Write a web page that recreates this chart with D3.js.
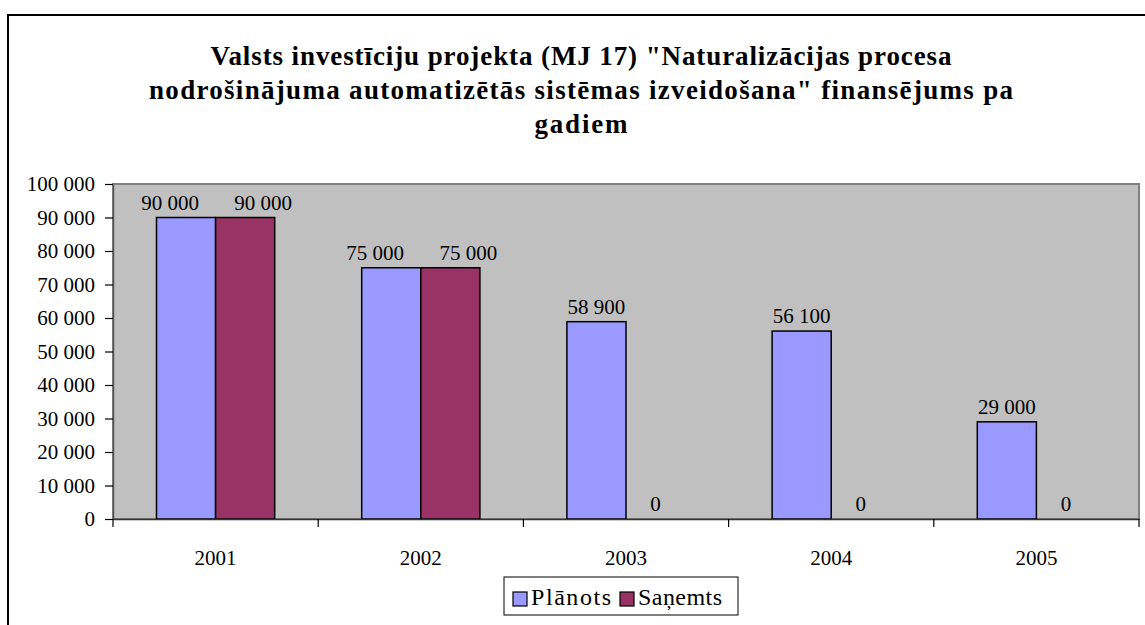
<!DOCTYPE html>
<html><head><meta charset="utf-8">
<script src="https://cdn.jsdelivr.net/npm/d3@7"></script>
<style>
html,body{margin:0;padding:0;background:#fff;}
svg{display:block;}
svg text{font-family:"Liberation Serif","Times New Roman",Tinos,"DejaVu Serif","Noto Serif",serif !important;}
</style></head>
<body><svg id="c" width="1145" height="625"></svg>
<script>
const titleLines = ["Valsts investīciju projekta (MJ 17) \"Naturalizācijas procesa",
  "nodrošinājuma automatizētās sistēmas izveidošana\" finansējums pa",
  "gadiem"];
const years = ["2001","2002","2003","2004","2005"];
const seriesNames = ["Plānots","Saņemts"];
const planned = [90000,75000,58900,56100,29000];
const received = [90000,75000,0,0,0];
const yTicks = [0,10000,20000,30000,40000,50000,60000,70000,80000,90000,100000];
const colors = ["#9999FF","#993366"];

const svg = d3.select("#c");
const fmt = v => d3.format(",")(v).replace(/,/g," ");

// outer frame
svg.append("rect").attr("x",8).attr("y",15).attr("width",1160).attr("height",640)
  .attr("fill","#fff").attr("stroke","#000").attr("stroke-width",2);

// title
const titleWidths = [741, 864, 93];
titleLines.forEach((t,i)=>{
  svg.append("text").attr("text-anchor","middle").attr("font-weight","bold")
    .attr("font-size",27).attr("fill","#000")
    .attr("x",581).attr("y",65+i*34)
    .attr("textLength",titleWidths[i]).attr("lengthAdjust","spacing")
    .text(t);
});

const L=113, R=1139, T=184, B=519;
const x0 = d3.scaleBand().domain(years).range([L,R]).paddingInner(0).paddingOuter(0);
const bw = x0.bandwidth();
const x1 = d3.scaleBand().domain(seriesNames).range([bw*0.212, bw*0.788]);
const y = d3.scaleLinear().domain([0,100000]).range([B,T]);

// plot area
svg.append("rect").attr("x",L).attr("y",T).attr("width",R-L).attr("height",B-T)
  .attr("fill","#C0C0C0").attr("stroke","#808080").attr("stroke-width",2);

// y axis
const yAxis = d3.axisLeft(y).tickValues(yTicks).tickFormat(fmt).tickSizeInner(8).tickSizeOuter(0).tickPadding(10);
const gy = svg.append("g").attr("transform",`translate(${L},0)`).call(yAxis);
gy.select(".domain").attr("stroke","#555").attr("stroke-width",1.5);
gy.selectAll(".tick line").attr("stroke","#000").attr("stroke-width",1.2);
gy.selectAll(".tick text").attr("font-size",21).attr("fill","#000").attr("dy","0.33em");

// bars
const data = years.map((yr,i)=>({yr, vals:[planned[i],received[i]]}));
const groups = svg.append("g").selectAll("g").data(data).join("g")
  .attr("transform",d=>`translate(${x0(d.yr)},0)`);
groups.selectAll("rect").data(d=>d.vals.map((v,j)=>({v,s:seriesNames[j],j})).filter(e=>e.v>0))
  .join("rect")
  .attr("x",e=>x1(e.s)).attr("width",x1.bandwidth())
  .attr("y",e=>y(e.v)).attr("height",e=>y(0)-y(e.v))
  .attr("fill",e=>colors[e.j]).attr("stroke","#000").attr("stroke-width",1.5);

// labels
groups.each(function(d){
  const g = d3.select(this);
  const both = d.vals.every(v=>v>0);
  d.vals.forEach((v,j)=>{
    const shift = both ? (j===0?-16:18) : 0;
    g.append("text").attr("text-anchor","middle")
      .attr("x",x1(seriesNames[j])+x1.bandwidth()/2+shift)
      .attr("y",y(v)-8).attr("font-size",21).attr("fill","#000").text(fmt(v));
  });
});

// x axis
const xAxis = d3.axisBottom(x0).tickSize(0).tickPadding(0);
const gx = svg.append("g").attr("transform",`translate(0,${B})`).call(xAxis);
gx.select(".domain").attr("stroke","#333").attr("stroke-width",1.5);
gx.selectAll(".tick text").attr("font-size",21).attr("fill","#000").attr("y",46).attr("dy",0);
// category boundary ticks
svg.append("g").selectAll("line").data(years.concat(["end"])).join("line")
  .attr("x1",(d,i)=>L+i*bw).attr("x2",(d,i)=>L+i*bw)
  .attr("y1",B).attr("y2",B+8).attr("stroke","#000").attr("stroke-width",1.2);

// legend
const lg = svg.append("g");
lg.append("rect").attr("x",504).attr("y",577).attr("width",234).attr("height",38)
  .attr("fill","#fff").attr("stroke","#000").attr("stroke-width",1);
const items = [{n:seriesNames[0],c:colors[0],x:513,w:80},{n:seriesNames[1],c:colors[1],x:620,w:84}];
items.forEach(it=>{
  lg.append("rect").attr("x",it.x).attr("y",592).attr("width",14).attr("height",14)
    .attr("fill",it.c).attr("stroke","#000").attr("stroke-width",1.2);
  lg.append("text").attr("x",it.x+18).attr("y",605).attr("font-size",24).attr("fill","#000")
    .attr("textLength",it.w).attr("lengthAdjust","spacing").text(it.n);
});
</script></body></html>
